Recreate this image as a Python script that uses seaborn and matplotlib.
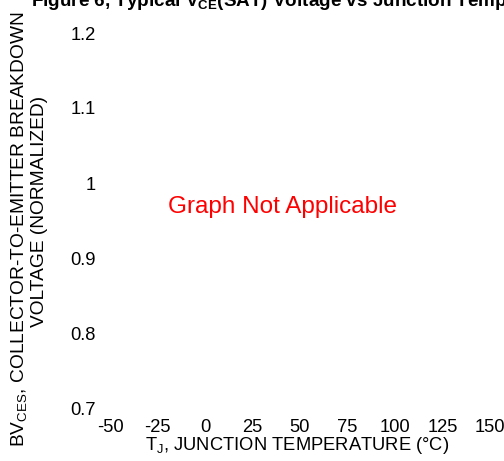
import matplotlib
matplotlib.use("Agg")
import matplotlib.pyplot as plt
import seaborn as sns
import pandas as pd

# Data (no curve: graph not applicable)
x_ticks = [-50, -25, 0, 25, 50, 75, 100, 125, 150]
y_ticks = [0.7, 0.8, 0.9, 1.0, 1.1, 1.2]
y_tick_labels = ["0.7", "0.8", "0.9", "1", "1.1", "1.2"]
temperature = []
voltage = []

title = "Figure 6, Typical V$_{\\mathbf{CE}}$(SAT) Voltage vs Junction Temperature"
x_label = "T$_{\\mathrm{J}}$, JUNCTION TEMPERATURE (°C)"
y_label_1 = "BV$_{\\mathrm{CES}}$, COLLECTOR-TO-EMITTER BREAKDOWN"
y_label_2 = "VOLTAGE (NORMALIZED)"
note = "Graph Not Applicable"

sns.set_style("white")
plt.rcParams['font.family'] = ['Liberation Sans', 'DejaVu Sans']
plt.rcParams['mathtext.fontset'] = 'custom'
plt.rcParams['mathtext.rm'] = 'Liberation Sans'
plt.rcParams['mathtext.it'] = 'Liberation Sans:italic'
plt.rcParams['mathtext.bf'] = 'Liberation Sans:bold'
for k in ['text.color', 'axes.labelcolor', 'xtick.color', 'ytick.color']:
    plt.rcParams[k] = 'black'

W, H = 504, 461
fig = plt.figure(figsize=(W / 100, H / 100), dpi=100)
fig.patch.set_facecolor("white")

left, right, bottom, top = 110, 490, 408, 33
ax = fig.add_axes([left / W, 1 - bottom / H, (right - left) / W, (bottom - top) / H])

df = pd.DataFrame({"T": pd.Series(temperature, dtype=float), "V": pd.Series(voltage, dtype=float)})
sns.lineplot(data=df, x="T", y="V", ax=ax)

fs = 13.2
ax.set_xlim(-50, 150)
ax.set_ylim(0.7, 1.2)
ax.set_xticks(x_ticks)
ax.set_xticklabels([str(v) for v in x_ticks], fontsize=fs)
ax.set_yticks(y_ticks)
ax.set_yticklabels(y_tick_labels, fontsize=fs)
ax.tick_params(axis="both", length=0)
ax.tick_params(axis="x", pad=8)
ax.tick_params(axis="y", pad=10)
sns.despine(ax=ax, left=True, bottom=True, top=True, right=True)
ax.set_facecolor("white")
ax.grid(False)

ax.set_xlabel(x_label, fontsize=fs)
ax.xaxis.label.set_va("center")
ax.xaxis.set_label_coords((297 - left) / (right - left), (bottom - 445) / (bottom - top))
ax.set_ylabel("")

fig.text(19 / W, 1 - 229 / H, y_label_1, rotation=90, fontsize=13.8,
         ha="center", va="center")
fig.text(40 / W, 1 - 211 / H, y_label_2, rotation=90, fontsize=13.8,
         ha="center", va="center")

ax.text((283 - left) / (right - left), (bottom - 213) / (bottom - top), note,
        transform=ax.transAxes, color="#ff0000", fontsize=17.5,
        ha="center", va="baseline")

fig.text(31 / W, 1 - 6 / H, title, fontsize=13.6, fontweight="bold",
         ha="left", va="baseline")

fig.savefig("out.png", dpi=100, facecolor="white")
